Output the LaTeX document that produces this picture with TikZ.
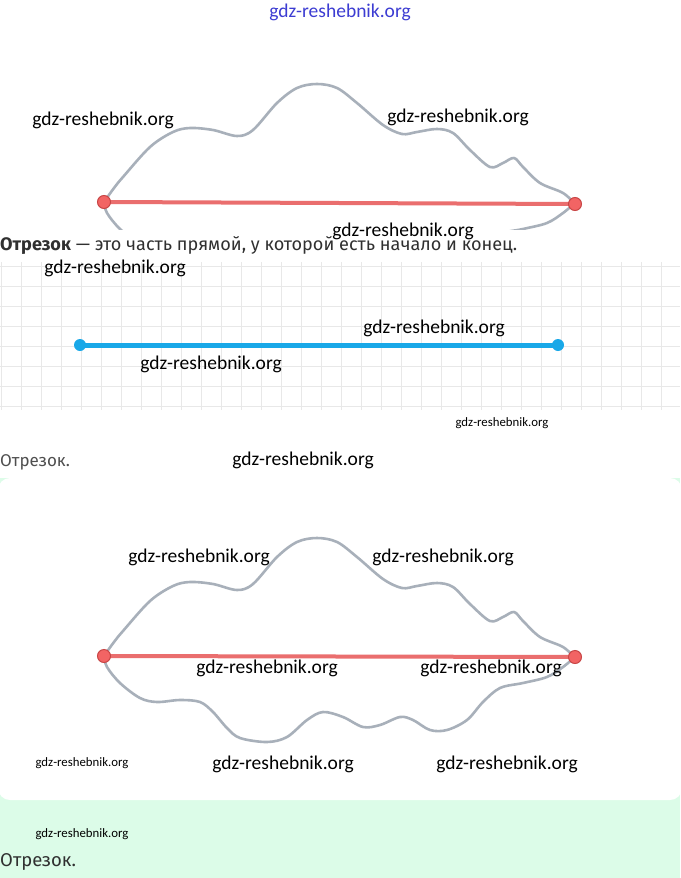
\documentclass[tikz,border=0pt]{standalone}
\usepackage{fontspec}
\usepackage{graphicx}
\setmainfont{Fira Sans}
\newfontfamily\wmfont{Carlito}
\definecolor{curvegrey}{RGB}{168,176,186}
\definecolor{segred}{RGB}{234,110,110}
\definecolor{dotred}{RGB}{242,100,100}
\definecolor{dotredborder}{RGB}{200,70,70}
\definecolor{segblue}{RGB}{25,168,232}
\definecolor{gridgrey}{RGB}{232,232,232}
\definecolor{mint}{RGB}{220,252,232}
\definecolor{txtgrey}{RGB}{48,48,48}
\definecolor{wmblue}{RGB}{60,60,210}
\tikzset{
  wm/.style={font=\wmfont\fontsize{19.5}{20}\selectfont, text=black, inner sep=0pt},
  wms/.style={font=\wmfont\fontsize{12.8}{13}\selectfont, text=black, inner sep=0pt},
  wave/.style={draw=curvegrey, line width=2.6pt, line cap=round, line join=round},
  redseg/.style={draw=segred, line width=4pt},
  reddot/.style={circle, fill=dotred, draw=dotredborder, line width=1pt, minimum size=13pt, inner sep=0pt},
  blueseg/.style={draw=segblue, line width=5pt},
  bluedot/.style={circle, fill=segblue, minimum size=12pt, inner sep=0pt},
  gridline/.style={draw=gridgrey, line width=0.9pt},
  bodytext/.style={inner sep=0pt, anchor=west, text=txtgrey},
}
\newcommand{\uppercurve}{plot[smooth, tension=0.55] coordinates {(104,202) (114,188) (123,177) (150,147) (173,132) (190,128) (213,130) (237,136) (253,130) (277,103) (297,88) (317,84) (337,88) (357,103) (383,125) (402,134) (417,132) (437,129) (453,133) (470,150) (490,167) (503,163) (514,158) (523,167) (540,183) (563,193) (575,204)}}
\newcommand{\lowercurve}{plot[smooth, tension=0.55] coordinates {(104,656) (107,667) (120,683) (140,698) (157,702) (180,700) (200,702) (213,712) (227,728) (240,738) (267,742) (287,737) (307,720) (323,712) (343,717) (363,727) (380,725) (400,717) (413,720) (430,730) (447,730) (467,720) (483,702) (500,688) (523,683) (547,677) (563,667) (575,657)}}
\begin{document}
\begin{tikzpicture}[x=1pt,y=-1pt]
\useasboundingbox (0,0) rectangle (680,878);
\fill[white] (0,0) rectangle (680,878);
% mint section and white card
\fill[mint] (0,478) rectangle (680,878);
\fill[white, rounded corners=12pt] (-2,478) rectangle (682,800);
% grid
\begin{scope}
  \clip (0,262) rectangle (680,410);
  \foreach \gx in {1,21,...,681} { \draw[gridline] (\gx,262) -- (\gx,410); }
  \foreach \gy in {266,286,...,406} { \draw[gridline] (0,\gy) -- (680,\gy); }
\end{scope}
% ---------- top diagram ----------
\draw[wave] \uppercurve;
\begin{scope}
  \clip (0,0) rectangle (680,229);
  \begin{scope}[shift={(0,-454)}]
    \draw[wave] \lowercurve;
  \end{scope}
\end{scope}
\coordinate (A1) at (104,202);
\coordinate (B1) at (575,204);
\draw[redseg] (A1) -- (B1);
\node[reddot] (a1) at (A1) {};
\node[reddot] (b1) at (B1) {};
% ---------- blue segment ----------
\coordinate (C) at (80,345);
\coordinate (D) at (558,345);
\draw[blueseg] (C) -- (D);
\node[bluedot] (c) at (C) {};
\node[bluedot] (d) at (D) {};
% ---------- bottom diagram ----------
\begin{scope}[shift={(0,454)}]
  \draw[wave] \uppercurve;
\end{scope}
\draw[wave] \lowercurve;
\coordinate (A2) at (104,656);
\coordinate (B2) at (575,657);
\draw[redseg] (A2) -- (B2);
\node[reddot] (a2) at (A2) {};
\node[reddot] (b2) at (B2) {};
% ---------- texts ----------
\node[bodytext] (def) at (0,246) {\resizebox{517pt}{!}{\textbf{Отрезок} — это часть прямой, у которой есть начало и конец.}};
\node[bodytext, text=txtgrey!85, font=\fontsize{17}{20}\selectfont] (lab1) at (0,462) {Отрезок.};
\node[bodytext, font=\fontsize{18.5}{22}\selectfont] (lab2) at (0,862) {Отрезок.};
% ---------- watermarks ----------
\node[wm, text=wmblue] (w0) at (340,12) {gdz-reshebnik.org};
\node[wm] (w1) at (103,120) {gdz-reshebnik.org};
\node[wm] (w2) at (458,117) {gdz-reshebnik.org};
\node[wm] (w3) at (403,231) {gdz-reshebnik.org};
\node[wm] (w4) at (115,268) {gdz-reshebnik.org};
\node[wm] (w5) at (434,328) {gdz-reshebnik.org};
\node[wm] (w6) at (211,364) {gdz-reshebnik.org};
\node[wms] (w7) at (502,423) {gdz-reshebnik.org};
\node[wm] (w8) at (303,460) {gdz-reshebnik.org};
\node[wm] (w9) at (199,557) {gdz-reshebnik.org};
\node[wm] (w10) at (443,557) {gdz-reshebnik.org};
\node[wm] (w11) at (267,668) {gdz-reshebnik.org};
\node[wm] (w12) at (491,668) {gdz-reshebnik.org};
\node[wms] (w13) at (82,763) {gdz-reshebnik.org};
\node[wm] (w14) at (283,764) {gdz-reshebnik.org};
\node[wm] (w15) at (507,764) {gdz-reshebnik.org};
\node[wms] (w16) at (82,834) {gdz-reshebnik.org};
\end{tikzpicture}
\end{document}
